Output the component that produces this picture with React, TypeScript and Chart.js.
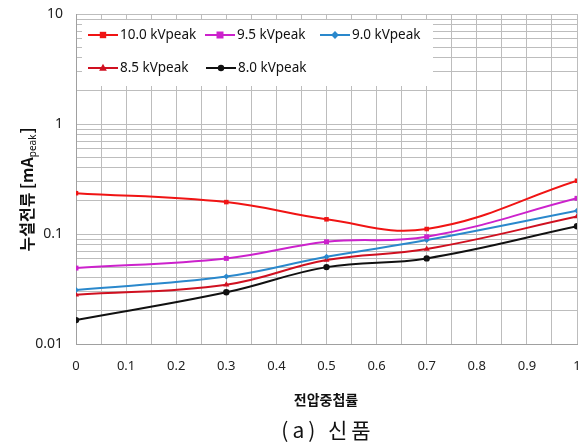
import React, { useEffect, useRef } from "react";
import { Chart, registerables } from "chart.js";

Chart.register(...registerables);

const xValues = [0, 0.3, 0.5, 0.7, 1];
const seriesLabels = ["10.0 kVpeak", "9.5 kVpeak", "9.0 kVpeak", "8.5 kVpeak", "8.0 kVpeak"];
const s100 = [0.235, 0.195, 0.136, 0.111, 0.305];
const s95 = [0.049, 0.06, 0.085, 0.0945, 0.211];
const s90 = [0.031, 0.041, 0.062, 0.088, 0.163];
const s85 = [0.028, 0.0346, 0.058, 0.073, 0.144];
const s80 = [0.0165, 0.0295, 0.05, 0.06, 0.1175];
const yTickLabels = ["0.01", "0.1", "1", "10"];
const xTitle = "전압중첩률";
const yTitleMain = "누설전류 [mA";
const yTitleSub = "peak";
const caption = "(a) 신품";

const seriesValues = [s100, s95, s90, s85, s80];
const colors = ["#f01414", "#cc22cc", "#2a88cc", "#d01020", "#111111"];
const pointStyles = ["rect", "rect", "rectRot", "triangle", "circle"];
const pointRadii = [3.2, 3.5, 3, 3.5, 3.2];

const FONT = "'Noto Sans', 'Noto Sans CJK KR', sans-serif";

function drawMarker(ctx: CanvasRenderingContext2D, style: string, x: number, y: number, r: number, color: string) {
  ctx.save();
  ctx.fillStyle = color;
  ctx.beginPath();
  if (style === "rect") {
    ctx.rect(x - r, y - r, 2 * r, 2 * r);
  } else if (style === "rectRot") {
    ctx.moveTo(x, y - r * 1.3);
    ctx.lineTo(x + r * 1.3, y);
    ctx.lineTo(x, y + r * 1.3);
    ctx.lineTo(x - r * 1.3, y);
    ctx.closePath();
  } else if (style === "triangle") {
    ctx.moveTo(x, y - r * 1.2);
    ctx.lineTo(x + r * 1.1, y + r * 0.8);
    ctx.lineTo(x - r * 1.1, y + r * 0.8);
    ctx.closePath();
  } else {
    ctx.arc(x, y, r, 0, Math.PI * 2);
  }
  ctx.fill();
  ctx.restore();
}

const legendPos = [
  { x: 88, y: 35 },
  { x: 205, y: 35 },
  { x: 320, y: 35 },
  { x: 88, y: 68 },
  { x: 206, y: 68 },
];

const decorPlugin = {
  id: "decor",
  beforeDatasetsDraw(chart: any) {
    const ctx = chart.ctx as CanvasRenderingContext2D;
    ctx.save();
    ctx.fillStyle = "#ffffff";
    ctx.fillRect(82, 20, 351, 66);
    ctx.restore();
  },
  afterDraw(chart: any) {
    const ctx = chart.ctx as CanvasRenderingContext2D;
    ctx.save();
    seriesLabels.forEach((lab, i) => {
      const p = legendPos[i];
      ctx.strokeStyle = colors[i];
      ctx.lineWidth = 2;
      ctx.beginPath();
      ctx.moveTo(p.x, p.y);
      ctx.lineTo(p.x + 30, p.y);
      ctx.stroke();
      drawMarker(ctx, pointStyles[i], p.x + 15, p.y, pointRadii[i], colors[i]);
      ctx.fillStyle = "#111";
      ctx.font = `13.5px ${FONT}`;
      ctx.textBaseline = "middle";
      ctx.textAlign = "left";
      ctx.fillText(lab, p.x + 32, p.y);
    });
    ctx.translate(27, 190);
    ctx.rotate(-Math.PI / 2);
    const mainFont = `bold 16px 'Noto Sans CJK KR', ${FONT}`;
    const subFont = `10px ${FONT}`;
    ctx.font = mainFont;
    const w1 = ctx.measureText(yTitleMain).width;
    ctx.font = subFont;
    const w2 = ctx.measureText(yTitleSub).width;
    ctx.font = mainFont;
    const w3 = ctx.measureText("]").width;
    const total = w1 + w2 + w3;
    const x0 = -total / 2;
    ctx.fillStyle = "#111";
    ctx.textBaseline = "alphabetic";
    ctx.textAlign = "left";
    ctx.fillText(yTitleMain, x0, 6);
    ctx.font = subFont;
    ctx.fillText(yTitleSub, x0 + w1, 9);
    ctx.font = mainFont;
    ctx.fillText("]", x0 + w1 + w2 + 1, 6);
    ctx.restore();

    ctx.save();
    ctx.fillStyle = "#111";
    ctx.textAlign = "center";
    ctx.textBaseline = "middle";
    ctx.font = `bold 14px 'Noto Sans CJK KR', ${FONT}`;
    ctx.fillText(xTitle, 326, 400);
    ctx.font = `21px 'Noto Sans CJK KR', ${FONT}`;
    (ctx as any).letterSpacing = "4px";
    ctx.fillText(caption, 328, 430);
    ctx.restore();
  },
};

export default function App() {
  const ref = useRef<HTMLCanvasElement>(null);
  useEffect(() => {
    if (!ref.current) return;
    const datasets = seriesValues.map((vals, i) => ({
      label: seriesLabels[i],
      data: vals.map((v, j) => ({ x: xValues[j], y: v })),
      borderColor: colors[i],
      backgroundColor: colors[i],
      borderWidth: 2,
      pointStyle: pointStyles[i],
      pointRadius: pointRadii[i],
      pointBorderWidth: 0,
      tension: 0.4,
      fill: false,
    }));
    const chart = new Chart(ref.current, {
      type: "line",
      data: { datasets },
      plugins: [decorPlugin],
      options: {
        animation: false,
        responsive: false,
        maintainAspectRatio: false,
        layout: { padding: { left: 0, top: 14, right: 11, bottom: 0 } },
        plugins: { legend: { display: false }, tooltip: { enabled: false } },
        scales: {
          x: {
            type: "linear",
            min: 0,
            max: 1,
            afterFit: (s: any) => {
              s.height = 102;
              s.paddingLeft = 0;
              s.paddingRight = 0;
            },
            afterBuildTicks: (s: any) => {
              const t = [];
              for (let i = 0; i <= 20; i++) t.push({ value: i / 20 });
              s.ticks = t;
            },
            ticks: {
              autoSkip: false,
              maxRotation: 0,
              padding: 14,
              color: "#222",
              font: { family: FONT, size: 13 },
              callback: (v: any) => {
                const k = Math.round(Number(v) * 20);
                if (k % 2 !== 0) return "";
                const val = k / 20;
                return val === 0 ? "0" : val === 1 ? "1" : val.toFixed(1);
              },
            },
            grid: { color: "#bdbdbd", lineWidth: 1, drawTicks: false },
            border: { color: "#a0a0a0", width: 1 },
          },
          y: {
            type: "logarithmic",
            min: 0.01,
            max: 10,
            afterFit: (s: any) => {
              s.width = 76;
              s.paddingTop = 0;
              s.paddingBottom = 0;
            },
            afterBuildTicks: (s: any) => {
              const t = [];
              for (let e = -2; e <= 0; e++) {
                for (let m = 1; m <= 9; m++) t.push({ value: m * Math.pow(10, e) });
              }
              t.push({ value: 10 });
              s.ticks = t;
            },
            ticks: {
              autoSkip: false,
              padding: 13,
              color: "#222",
              font: { family: FONT, size: 14 },
              callback: (v: any) => {
                const lg = Math.log10(Number(v));
                const r = Math.round(lg);
                if (Math.abs(lg - r) > 1e-6) return "";
                return yTickLabels[r + 2];
              },
            },
            grid: { color: "#bdbdbd", lineWidth: 1, drawTicks: false },
            border: { color: "#a0a0a0", width: 1 },
          },
        },
      } as any,
    });
    return () => chart.destroy();
  }, []);
  return (
    <div style={{ position: "fixed", left: 0, top: 0, width: 588, height: 446, background: "#fff" }}>
      <canvas ref={ref} width={588} height={446} style={{ width: 588, height: 446 }} />
    </div>
  );
}
